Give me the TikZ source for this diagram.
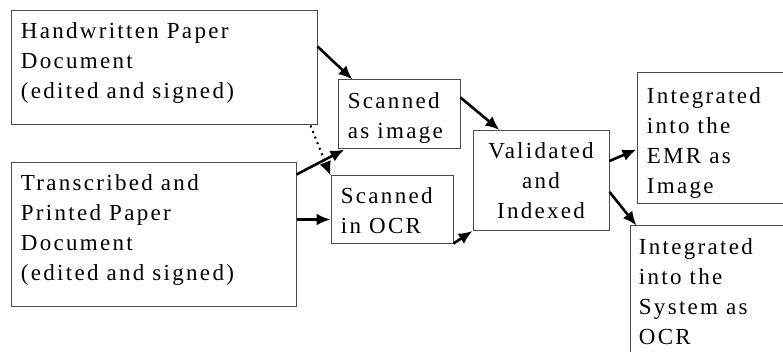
\documentclass[tikz,border=0pt]{standalone}
\usepackage{fontspec}
\setmainfont{Liberation Serif}[LetterSpace=10]
\usetikzlibrary{arrows.meta}
\tikzset{
	box/.style={draw=black!70,line width=0.5pt,rectangle,inner sep=0pt},
	txt/.style={inner sep=0pt,align=left,font=\fontsize{11.5}{15}\selectfont},
	arr/.style={-{Latex[length=7pt,width=6pt]},line width=1.3pt}
}

\begin{document}
\begin{tikzpicture}[x=0.5pt,y=-0.5pt]
\useasboundingbox (0,0) rectangle (783,352);
\begin{scope}
\clip (0,0) rectangle (783,352);
\node[box,minimum width=153pt,minimum height=57pt] (hand) at (164,68) {};
\node[box,minimum width=142.5pt,minimum height=72pt] (trans) at (153.5,235) {};
\node[box,minimum width=61pt,minimum height=34.5pt] (scimg) at (399,114.5) {};
\node[box,minimum width=61pt,minimum height=34pt] (scocr) at (392,210) {};
\node[box,minimum width=68pt,minimum height=50pt] (valid) at (541,180.5) {};
\node[box,minimum width=90pt,minimum height=65.5pt] (emr) at (727,138.5) {};
\node[box,minimum width=90pt,minimum height=80pt] (sys) at (720,306) {};
\end{scope}
\node[txt,anchor=north west] (handtxt) at ([shift={(10,12)}]hand.north west) {Handwritten Paper\\Document\\(edited and signed)};
\node[txt,anchor=north west] (transtxt) at ([shift={(10,12)}]trans.north west) {Transcribed and\\Printed Paper\\Document\\(edited and signed)};
\node[txt,anchor=north west] (scimgtxt) at ([shift={(10,13)}]scimg.north west) {Scanned\\as image};
\node[txt,anchor=north west] (scocrtxt) at ([shift={(10,12)}]scocr.north west) {Scanned\\in OCR};
\node[txt,align=center,anchor=north] (validtxt) at ([shift={(0,12)}]valid.north) {Validated\\and\\Indexed};
\node[txt,anchor=north west] (emrtxt) at ([shift={(10,15)}]emr.north west) {Integrated\\into the\\EMR as\\Image};
\node[txt,anchor=north west] (systxt) at ([shift={(9,13)}]sys.north west) {Integrated\\into the\\System as\\OCR};
\draw[arr] ([shift={(0,36)}]hand.north east) -- ([shift={(15,0)}]scimg.north west);
\draw[arr] ([shift={(0,12)}]trans.north east) -- ([shift={(7,0)}]scimg.south west);
\draw[arr] ([shift={(0,57)}]trans.north east) -- ([shift={(0,44)}]scocr.north west);
\draw[arr,line width=1pt,dotted,-{Latex[length=7pt,width=6pt]}] ([shift={(-7,0)}]hand.south east) -- (scocr.north west);
\draw[arr] ([shift={(0,18)}]scimg.north east) -- ([shift={(27,0)}]valid.north west);
\draw[arr] ([shift={(0,-1)}]scocr.south east) -- (valid.south west);
\draw[arr] ([shift={(0,31)}]valid.north east) -- ([shift={(0,77)}]emr.north west);
\draw[arr] ([shift={(0,62)}]valid.north east) -- ([shift={(7,0)}]sys.north west);
\end{tikzpicture}
\end{document}
